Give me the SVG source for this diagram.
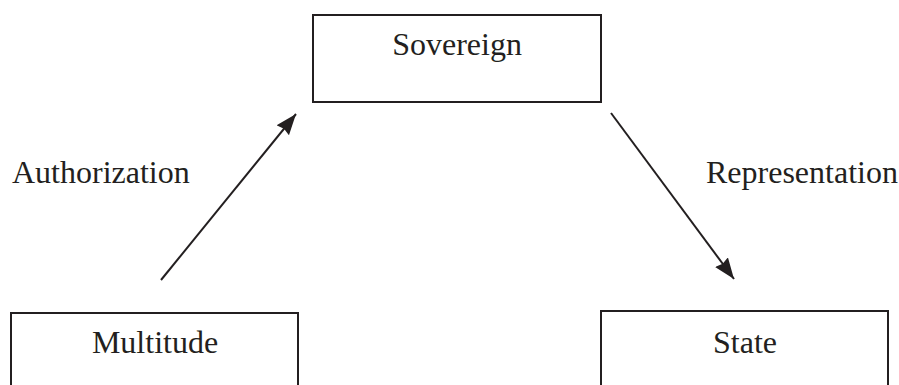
<svg xmlns="http://www.w3.org/2000/svg" width="899" height="385" viewBox="0 0 899 385">
  <style>
    .box { fill: #ffffff; stroke: #231f20; stroke-width: 2; }
    .label { font-family: "Liberation Serif", "Times New Roman", serif; font-size: 32px; fill: #231f20; }
    .edge { fill: none; stroke: #231f20; stroke-width: 2; }
  </style>
  <defs>
    <marker id="arrowhead" markerUnits="userSpaceOnUse" markerWidth="24" markerHeight="18" refX="21" refY="8" orient="auto">
      <path d="M0,0 L21,8 L0,16 L2,8 z" fill="#231f20"/>
    </marker>
  </defs>
  <rect width="899" height="385" fill="#ffffff"/>

  <g id="sovereign">
    <rect class="box" x="313" y="15" width="288" height="87"/>
    <text class="label" x="457" y="55" text-anchor="middle">Sovereign</text>
  </g>

  <g id="multitude">
    <rect class="box" x="11" y="313" width="287" height="90"/>
    <text class="label" x="155" y="353" text-anchor="middle">Multitude</text>
  </g>

  <g id="state">
    <rect class="box" x="601" y="311" width="287" height="90"/>
    <text class="label" x="745" y="353" text-anchor="middle">State</text>
  </g>

  <g id="connectors">
    <line class="edge" x1="161" y1="280" x2="296" y2="114" marker-end="url(#arrowhead)"/>
    <line class="edge" x1="611" y1="113" x2="734" y2="279" marker-end="url(#arrowhead)"/>
    <text class="label" x="12" y="183">Authorization</text>
    <text class="label" x="706" y="183">Representation</text>
  </g>
</svg>
